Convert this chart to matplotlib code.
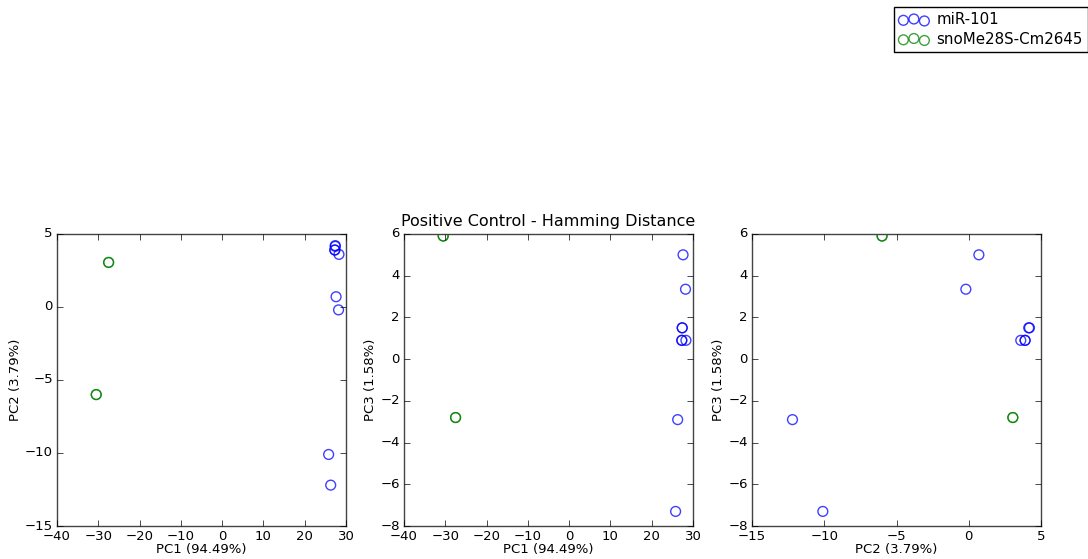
import numpy as np
import matplotlib
matplotlib.use("Agg")
import matplotlib.pyplot as plt

plt.style.use("classic")

# PCA coordinates
mir_pc1 = [26.3, 25.8, 28.2, 27.6, 28.3, 27.3, 27.3, 27.4, 27.4]
mir_pc2 = [-12.2, -10.1, -0.2, 0.7, 3.6, 3.9, 3.9, 4.2, 4.15]
mir_pc3 = [-2.9, -7.3, 3.35, 5.0, 0.9, 0.9, 0.9, 1.5, 1.5]

sno_pc1 = [-30.5, -30.5, -27.5, -27.5]
sno_pc2 = [-6.0, -6.0, 3.05, 3.05]
sno_pc3 = [5.9, 5.9, -2.8, -2.8]

labels = ["miR-101", "snoMe28S-Cm2645"]
colors = ["b", "g"]
var = {"PC1": "PC1 (94.49%)", "PC2": "PC2 (3.79%)", "PC3": "PC3 (1.58%)"}

fig = plt.figure(figsize=(10.88, 5.59), dpi=100, facecolor="white")

panels = [
    (0.0524, mir_pc1, mir_pc2, sno_pc1, sno_pc2, "PC1", "PC2", (-40, 30), (-15, 5)),
    (0.3713, mir_pc1, mir_pc3, sno_pc1, sno_pc3, "PC1", "PC3", (-40, 30), (-8, 6)),
    (0.6912, mir_pc2, mir_pc3, sno_pc2, sno_pc3, "PC2", "PC3", (-15, 5), (-8, 6)),
]

handles = []
for i, (left, mx, my, sx, sy, xl, yl, xlim, ylim) in enumerate(panels):
    ax = fig.add_axes([left, 0.059, 0.2656, 0.5225])
    h1 = ax.scatter(mx, my, s=50, facecolors="none", edgecolors=colors[0],
                    linewidths=1.0, alpha=0.75, label=labels[0])
    h2 = ax.scatter(sx, sy, s=50, facecolors="none", edgecolors=colors[1],
                    linewidths=1.0, alpha=0.75, label=labels[1])
    if i == 0:
        handles = [h1, h2]
    ax.set_xlim(*xlim)
    ax.set_ylim(*ylim)
    ax.set_xlabel(var[xl], fontsize=9.5, labelpad=0)
    ax.set_ylabel(var[yl], fontsize=9.5, labelpad=2)
    ax.tick_params(labelsize=9.5, pad=3)
    for sp in ax.spines.values():
        sp.set_color("#444444")
    if i == 1:
        ax.set_title("Positive Control - Hamming Distance", fontsize=11.5, pad=6)

fig.legend(handles, labels, loc="upper right", bbox_to_anchor=(1.0, 1 - 7 / 559),
           borderaxespad=0, scatterpoints=3, fontsize=10.8, fancybox=False,
           handletextpad=0.5, borderpad=0.35, labelspacing=0.3, framealpha=1)

fig.savefig("out.png", dpi=100, facecolor="white")
